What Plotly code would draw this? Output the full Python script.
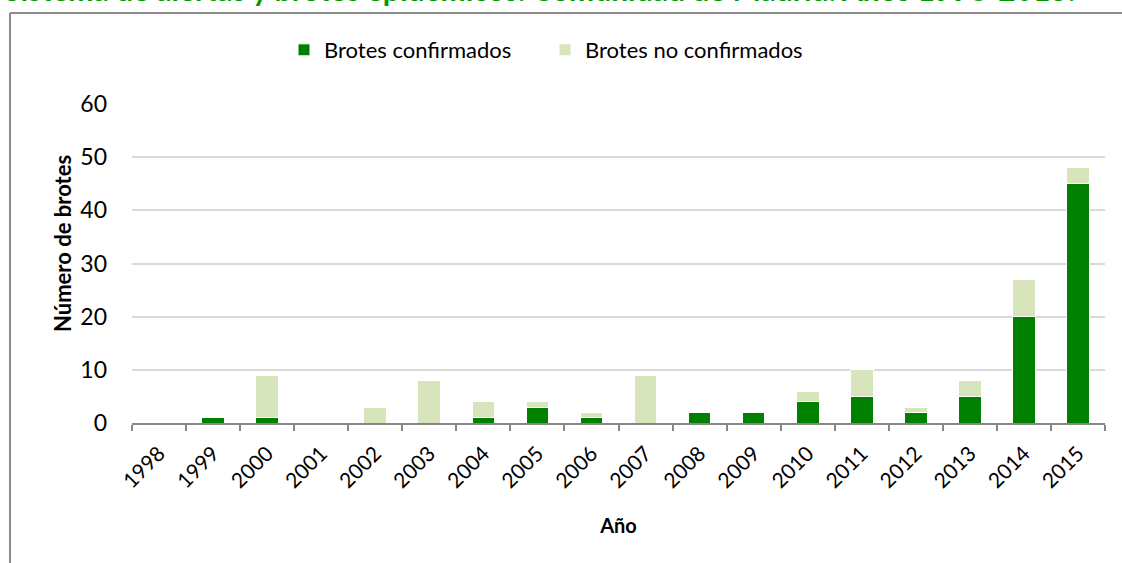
import plotly.graph_objects as go

years = ["1998", "1999", "2000", "2001", "2002", "2003", "2004", "2005", "2006",
         "2007", "2008", "2009", "2010", "2011", "2012", "2013", "2014", "2015"]
confirmados = [0, 1, 1, 0, 0, 0, 1, 3, 1, 0, 2, 2, 4, 5, 2, 5, 20, 45]
no_confirmados = [0, 0, 8, 0, 3, 8, 3, 1, 1, 9, 0, 0, 2, 5, 1, 3, 7, 3]
y_ticks = [0, 10, 20, 30, 40, 50, 60]

title_text = "Sistema de alertas y brotes epidémicos. Comunidad de Madrid. Años 1998-2015."

W, H = 1122, 563
L, R, T, B = 132, 17, 104, 140
pw, ph = W - L - R, H - T - B

def px(x):
    return (x - L) / pw

def py(y):
    return (H - B - y) / ph

font = "Lato"

fig = go.Figure()
fig.add_trace(go.Bar(x=years, y=confirmados, name="Brotes confirmados",
                     marker=dict(color="#008000", line=dict(width=1, color="#FFFFFF"))))
fig.add_trace(go.Bar(x=years, y=no_confirmados, name="Brotes no confirmados",
                     marker=dict(color="#D8E4BC", line=dict(width=1, color="#FFFFFF"))))

fig.update_layout(
    width=W, height=H,
    margin=dict(l=L, r=R, t=T, b=B),
    barmode="stack", bargap=0.58,
    plot_bgcolor="white", paper_bgcolor="white",
    font=dict(family=font, size=20, color="#000000"),
    showlegend=True,
    legend=dict(orientation="h", x=px(284), xanchor="left", y=py(50), yanchor="middle",
                font=dict(size=22, family=font), itemwidth=30, entrywidth=216,
                traceorder="normal"),
    xaxis=dict(type="category", tickson="boundaries", ticks="outside", ticklen=6,
               tickcolor="#868686", tickwidth=2, showline=True, linecolor="#868686",
               linewidth=2, tickangle=-45, showgrid=False, ticklabelstandoff=8,
               tickfont=dict(size=21, family=font),
               title=dict(text="<b>Año</b>", font=dict(size=20, family=font), standoff=28)),
    yaxis=dict(range=[0, 60], tickvals=y_ticks, showgrid=True, gridcolor="#D9D9D9",
               gridwidth=2, zeroline=False, showline=False, ticks="",
               ticklabelstandoff=24, tickfont=dict(size=23, family=font)),
    shapes=[
        dict(type="line", xref="paper", yref="paper",
             x0=px(10), x1=px(10), y0=py(13), y1=py(700),
             line=dict(color="#8C8C8C", width=2), layer="below"),
        dict(type="line", xref="paper", yref="paper",
             x0=px(10), x1=px(1300), y0=py(13), y1=py(13),
             line=dict(color="#8C8C8C", width=2), layer="below"),
    ],
    annotations=[
        dict(text="<b>" + title_text + "</b>", xref="paper", yref="paper",
             x=px(2), y=py(9), xanchor="left", yanchor="bottom", showarrow=False,
             font=dict(size=30, family=font, color="#009900")),
        dict(text="<b>Número de brotes</b>", xref="paper", yref="paper",
             x=px(62), y=py(244), xanchor="center", yanchor="middle", showarrow=False,
             textangle=-90, font=dict(size=22, family=font, color="#000000")),
    ],
)

fig.write_html("out.html", config={"displayModeBar": False},
               post_script="document.body.style.margin='0';document.body.style.overflow='hidden';")
